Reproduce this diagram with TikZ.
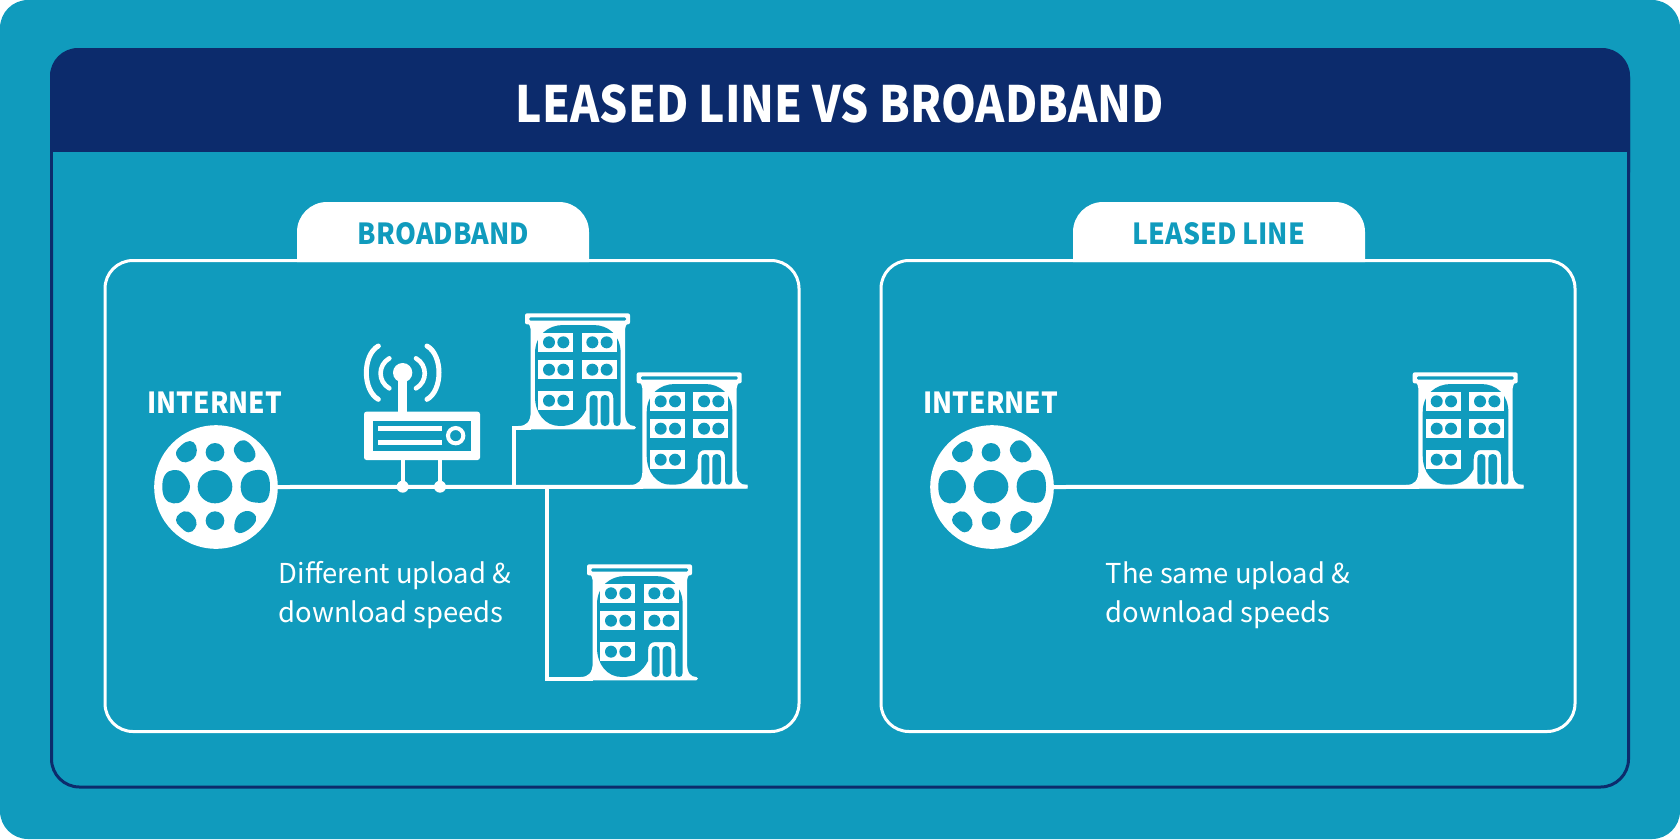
\documentclass[tikz,border=0pt]{standalone}
\usepackage{fontspec}
\setmainfont{Noto Sans CJK SC}
\definecolor{teal}{RGB}{16,155,189}
\definecolor{navy}{RGB}{12,43,108}
\tikzset{
  wire/.style={draw=white,line width=4pt},
  panel/.style={draw=white,line width=3pt,rounded corners=28pt},
  titletext/.style={text=white,font=\bfseries\fontsize{50}{50}\selectfont\addfontfeatures{FakeStretch=.888},inner sep=0pt,anchor=base},
  tabtext/.style={text=teal,font=\bfseries\fontsize{29}{29}\selectfont\addfontfeatures{FakeStretch=.92},inner sep=0pt,anchor=base},
  nettext/.style={text=white,font=\bfseries\fontsize{29}{29}\selectfont\addfontfeatures{FakeStretch=.905},inner sep=0pt,anchor=base},
  bodytext/.style={text=white,font=\fontsize{27.4}{39}\selectfont,inner sep=0pt,anchor=north west,align=left},
  pics/building/.style={code={
    \begin{scope}[x=.33333pt,y=-.33333pt]
      \fill[white,rounded corners=2pt] (75,40) rectangle (390,73);
      \fill[teal,rounded corners=1.2pt] (88,52) rectangle (378,62);
      \fill[white] (85,70) .. controls (88,76) and (92,80) .. (92,88) -- (92,335)
        .. controls (92,365) and (80,378) .. (55,378) -- (55,388) -- (403,388)
        arc[start angle=90,end angle=-90,radius=5] -- (403,378)
        .. controls (385,378) and (375,365) .. (375,335) -- (375,88)
        .. controls (375,80) and (379,76) .. (382,70) -- cycle;
      \fill[teal] (105,160) .. controls (105,105) and (145,75) .. (190,75) -- (280,75)
        .. controls (325,75) and (362,105) .. (362,160) -- (362,366)
        .. controls (362,374) and (357,378) .. (351,378)
        .. controls (345,378) and (340,374) .. (340,366) -- (340,295)
        .. controls (340,282) and (334,273) .. (322,273) -- (280,273)
        .. controls (265,273) and (258,282) .. (258,300) -- (258,330)
        .. controls (240,365) and (215,378) .. (180,378)
        .. controls (135,378) and (105,340) .. (105,290) -- cycle;
      \fill[teal,rounded corners=3.8pt] (269,285) rectangle (293,378);
      \fill[teal,rounded corners=4pt] (302,285) rectangle (328,378);
      \foreach \wx/\wy in {115/98,245/98,115/180,245/180,115/273}{
        \fill[white] (\wx,\wy) rectangle ++(105,57);
        \fill[teal] (\wx+32,\wy+29) circle[radius=18];
        \fill[teal] (\wx+75,\wy+29) circle[radius=18];
      }
      \coordinate (-foot) at (92,383);
      \coordinate (-west) at (42,383);
      \coordinate (-east) at (408,383);
    \end{scope}
  }},
  pics/globe/.style={code={
    \begin{scope}[x=.33333pt,y=-.33333pt]
      \node (-c) at (258,561) [circle,fill=white,minimum size=123.6pt,inner sep=0pt] {};
      \begin{scope}[shift={(60,375)}]
        \fill[teal] (195,185) ellipse[x radius=52,y radius=50];
        \fill[teal] (195,82) circle[radius=28];
        \fill[teal] (195,287) circle[radius=28];
        \fill[teal] plot[smooth cycle,tension=.7] coordinates {(78,85)(95,60)(120,48)(138,62)(138,90)(120,108)(95,110)};
        \fill[teal] plot[smooth cycle,tension=.7] coordinates {(252,70)(272,47)(295,52)(315,80)(310,105)(285,112)(262,98)};
        \fill[teal] plot[smooth cycle,tension=.7] coordinates {(37,185)(45,150)(70,135)(100,145)(120,185)(100,225)(70,235)(45,220)};
        \fill[teal] plot[smooth cycle,tension=.7] coordinates {(272,185)(285,150)(320,135)(350,145)(360,185)(350,225)(320,233)(285,220)};
        \fill[teal] plot[smooth cycle,tension=.7] coordinates {(78,285)(90,265)(115,260)(138,285)(135,310)(115,322)(90,305)};
        \fill[teal] plot[smooth cycle,tension=.7] coordinates {(253,300)(265,270)(295,258)(318,275)(310,300)(280,322)(258,320)};
      \end{scope}
    \end{scope}
  }},
}
\begin{document}
\begin{tikzpicture}[x=1pt,y=-1pt]
\useasboundingbox (0,0) rectangle (1680,839);
% background and frame
\fill[teal,rounded corners=28pt] (0,0) rectangle (1680,839);
\draw[navy,line width=3pt,rounded corners=28pt] (51.5,50) rectangle (1628.5,787);
\fill[navy,rounded corners=28pt] (50,48) -- (1630,48) -- (1630,200) -- (50,200) -- cycle;
\fill[teal] (53,152) rectangle (1627,210);
\node[titletext] (title) at (840,122) {LEASED LINE VS BROADBAND};
% tabs and panels
\fill[white] (297,262) -- (297,232) arc[start angle=180,end angle=270,radius=30] -- (559,202) arc[start angle=270,end angle=360,radius=30] -- (589,262) -- cycle;
\fill[white] (1073,262) -- (1073,232) arc[start angle=180,end angle=270,radius=30] -- (1335,202) arc[start angle=270,end angle=360,radius=30] -- (1365,262) -- cycle;
\draw[panel] (105,260.5) rectangle (799,731.5);
\draw[panel] (881,260.5) rectangle (1575,731.5);
\node[tabtext] (tabA) at (443.5,244.7) {BROADBAND};
\node[tabtext] (tabB) at (1219,244.7) {LEASED LINE};
% globes
\pic (g1) at (130,300) {globe};
\pic (g2) at (906,300) {globe};
\node[nettext] (netA) at (215,413) {INTERNET};
\node[nettext] (netB) at (991,413) {INTERNET};
% buildings
\pic (b1) at (500,300) {building};
\pic (b2) at (611.7,359) {building};
\pic (b3) at (562,551) {building};
\pic (b4) at (1387.7,359) {building};
% connectors
\coordinate (jn) at (546.7,486.67);
\draw[wire] (g1-c.east) -- (b2-east);
\draw[wire] (b1-foot) -- (b1-west) -- (b1-west |- b2-east);
\draw[wire] (jn) |- (b3-foot);
\draw[wire] (g2-c.east) -- (b4-east);
% router
\begin{scope}[shift={(130,300)},x=.33333pt,y=-.33333pt]
  \coordinate (ant) at (818,218);
  \coordinate (legA) at (818,560);
  \coordinate (legB) at (930,560);
  \draw[white,line width=9pt] (ant) -- (818,340);
  \fill[white] (ant) circle[radius=29];
  \draw[white,line width=4.6pt,line cap=round] (778,175) .. controls (743,195) and (743,245) .. (778,265);
  \draw[white,line width=4.6pt,line cap=round] (858,175) .. controls (893,195) and (893,245) .. (858,265);
  \draw[white,line width=5pt,line cap=round] (745,138) .. controls (697,165) and (697,271) .. (745,298);
  \draw[white,line width=5pt,line cap=round] (891,138) .. controls (939,165) and (939,271) .. (891,298);
  \fill[white,rounded corners=2.5pt] (702,335) rectangle (1050,480);
  \fill[teal] (730,364) rectangle (1022,452);
  \fill[white] (745,378) rectangle (935,393);
  \fill[white] (745,421) rectangle (935,436);
  \draw[white,line width=4pt] (977,407) circle[radius=23];
  \draw[white,line width=4pt] (818,480) -- (legA);
  \draw[white,line width=4pt] (930,480) -- (legB);
  \fill[white] (legA) circle[radius=18];
  \fill[white] (legB) circle[radius=18];
\end{scope}
% texts
\node[bodytext] (noteA) at (278.5,561.5) {Different upload \&\\download speeds};
\node[bodytext] (noteB) at (1105.5,561.5) {The same upload \&\\download speeds};
\end{tikzpicture}
\end{document}
